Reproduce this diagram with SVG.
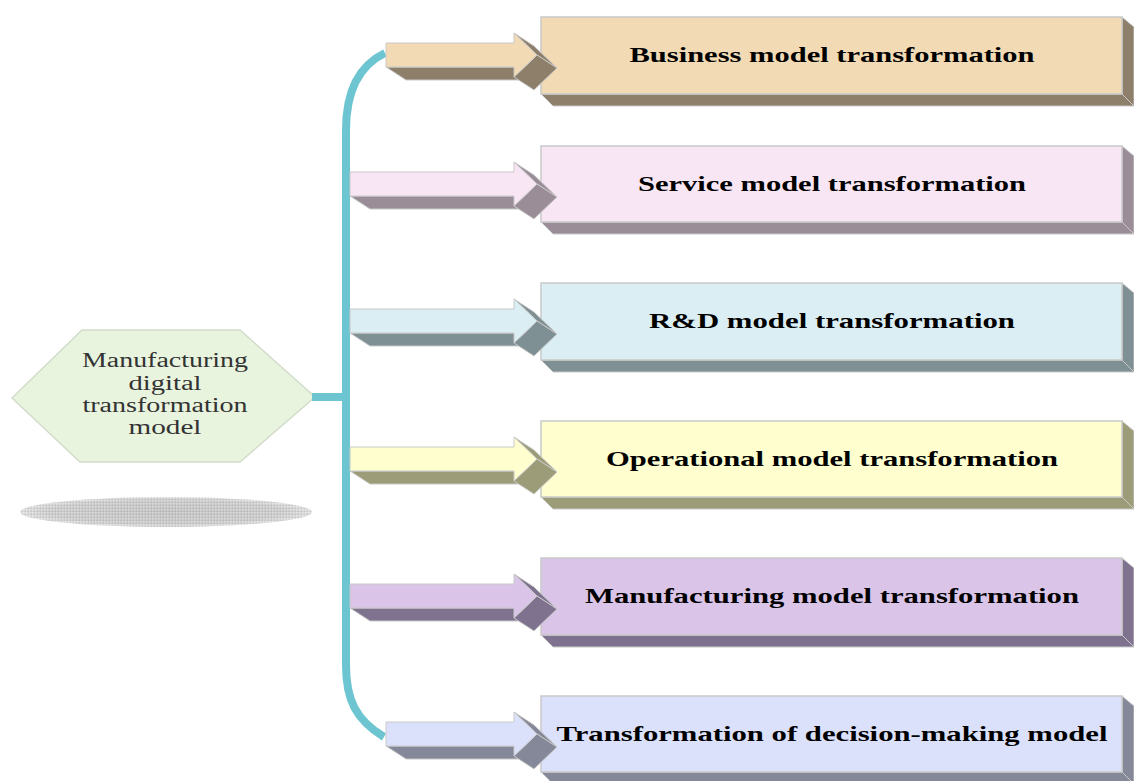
<svg xmlns="http://www.w3.org/2000/svg" width="1134" height="781" viewBox="0 0 1134 781">
<defs>
<style>
.front{stroke:#c9c9c9;stroke-width:1.5}
.side{stroke:#c9c9c9;stroke-width:1}
.lbl{font-family:"Liberation Serif","Times New Roman",serif;font-weight:bold;font-size:21px;fill:#000;text-anchor:middle}
.hex{font-family:"Liberation Serif","Times New Roman",serif;font-size:20px;fill:#333;text-anchor:middle}
.trunk{fill:none;stroke:#6CC5D0;stroke-width:8}
.arw{stroke:#c9c9c9;stroke-width:1;stroke-linejoin:round}
</style>
<radialGradient id="shadow" cx="0.5" cy="0.5" r="0.5">
<stop offset="0" stop-color="#b4b4b4"/>
<stop offset="0.8" stop-color="#c4c4c4"/>
<stop offset="1" stop-color="#e4e4e4"/>
</radialGradient>
<pattern id="dots" width="3" height="3" patternUnits="userSpaceOnUse">
<rect width="3" height="3" fill="url(#shadow)"/>
<rect x="2" width="1" height="3" fill="#fff" fill-opacity="0.35"/>
<rect y="2" width="3" height="1" fill="#fff" fill-opacity="0.35"/>
</pattern>
</defs>
<rect width="1134" height="781" fill="#fff"/>

<!-- central node -->
<g id="n-center">
<ellipse cx="166" cy="512" rx="146" ry="15" fill="url(#shadow)"/>
<ellipse cx="166" cy="512" rx="146" ry="15" fill="url(#dots)" opacity="0.5"/>
<polygon points="12,398 82,330 240,330 315,397 240,462 80,462" fill="#E9F4DF" stroke="#d3dccb" stroke-width="1.5"/>
<text class="hex" x="165" y="367" textLength="166" lengthAdjust="spacingAndGlyphs">Manufacturing</text>
<text class="hex" x="165" y="390" textLength="73" lengthAdjust="spacingAndGlyphs">digital</text>
<text class="hex" x="165" y="412" textLength="165" lengthAdjust="spacingAndGlyphs">transformation</text>
<text class="hex" x="165" y="434" textLength="73" lengthAdjust="spacingAndGlyphs">model</text>
</g>

<!-- boxes -->
<g id="n-business">
<polygon class="side" points="541,94 1122,94 1134,106 553,106" fill="#8E7F6B"/>
<polygon class="side" points="1122,17 1134,27 1134,106 1122,94" fill="#8E7F6B"/>
<rect class="front" x="541" y="17" width="581" height="77" fill="#F2DAB5"/>
<text class="lbl" x="832" y="62" textLength="405" lengthAdjust="spacingAndGlyphs">Business model transformation</text>
</g>
<g id="n-service">
<polygon class="side" points="541,222 1122,222 1134,234 553,234" fill="#9B8D98"/>
<polygon class="side" points="1122,146 1134,156 1134,234 1122,222" fill="#9B8D98"/>
<rect class="front" x="541" y="146" width="581" height="76" fill="#F9E6F5"/>
<text class="lbl" x="832" y="191" textLength="388" lengthAdjust="spacingAndGlyphs">Service model transformation</text>
</g>
<g id="n-rd">
<polygon class="side" points="541,360 1122,360 1134,372 553,372" fill="#7E9093"/>
<polygon class="side" points="1122,283 1134,293 1134,372 1122,360" fill="#7E9093"/>
<rect class="front" x="541" y="283" width="581" height="77" fill="#DAEEF3"/>
<text class="lbl" x="832" y="328" textLength="366" lengthAdjust="spacingAndGlyphs">R&amp;D model transformation</text>
</g>
<g id="n-operational">
<polygon class="side" points="541,497 1122,497 1134,509 553,509" fill="#9C9C79"/>
<polygon class="side" points="1122,421 1134,431 1134,509 1122,497" fill="#9C9C79"/>
<rect class="front" x="541" y="421" width="581" height="76" fill="#FEFECF"/>
<text class="lbl" x="832" y="466" textLength="452" lengthAdjust="spacingAndGlyphs">Operational model transformation</text>
</g>
<g id="n-manufacturing">
<polygon class="side" points="541,635 1122,635 1134,647 553,647" fill="#7F728F"/>
<polygon class="side" points="1122,558 1134,568 1134,647 1122,635" fill="#7F728F"/>
<rect class="front" x="541" y="558" width="581" height="77" fill="#DAC5E8"/>
<text class="lbl" x="832" y="603" textLength="494" lengthAdjust="spacingAndGlyphs">Manufacturing model transformation</text>
</g>
<g id="n-decision">
<polygon class="side" points="541,772 1122,772 1134,784 553,784" fill="#848898"/>
<polygon class="side" points="1122,696 1134,706 1134,784 1122,772" fill="#848898"/>
<rect class="front" x="541" y="696" width="581" height="76" fill="#DBE1FA"/>
<text class="lbl" x="832" y="741" textLength="551" lengthAdjust="spacingAndGlyphs">Transformation of decision-making model</text>
</g>

<!-- connectors -->
<g id="connectors">
<path class="trunk" d="M385,53 C358,66 346,92 346,130 L346,665 C346,700 356,720 384,737"/>
<line x1="312" y1="397" x2="346" y2="397" stroke="#6CC5D0" stroke-width="8"/>

<g id="a-business">
<polygon class="arw" fill="#8E7F6B" points="386,67 514,67 534,80 406,80"/>
<polygon class="arw" fill="#8E7F6B" points="514,33 537,55 557,68 534,46"/>
<polygon class="arw" fill="#8E7F6B" points="514,77 534,90 557,68 537,55"/>
<polygon class="arw" fill="#F2DAB5" points="386,43 514,43 514,33 537,55 514,77 514,67 386,67"/>
</g>
<g id="a-service">
<polygon class="arw" fill="#9B8D98" points="350,196 514,196 534,209 370,209"/>
<polygon class="arw" fill="#9B8D98" points="514,162 537,184 557,197 534,175"/>
<polygon class="arw" fill="#9B8D98" points="514,206 534,219 557,197 537,184"/>
<polygon class="arw" fill="#F9E6F5" points="350,172 514,172 514,162 537,184 514,206 514,196 350,196"/>
</g>
<g id="a-rd">
<polygon class="arw" fill="#7E9093" points="350,333 514,333 534,346 370,346"/>
<polygon class="arw" fill="#7E9093" points="514,299 537,321 557,334 534,312"/>
<polygon class="arw" fill="#7E9093" points="514,343 534,356 557,334 537,321"/>
<polygon class="arw" fill="#DAEEF3" points="350,309 514,309 514,299 537,321 514,343 514,333 350,333"/>
</g>
<g id="a-operational">
<polygon class="arw" fill="#9C9C79" points="350,471 514,471 534,484 370,484"/>
<polygon class="arw" fill="#9C9C79" points="514,437 537,459 557,472 534,450"/>
<polygon class="arw" fill="#9C9C79" points="514,481 534,494 557,472 537,459"/>
<polygon class="arw" fill="#FEFECF" points="350,447 514,447 514,437 537,459 514,481 514,471 350,471"/>
</g>
<g id="a-manufacturing">
<polygon class="arw" fill="#7F728F" points="350,608 514,608 534,621 370,621"/>
<polygon class="arw" fill="#7F728F" points="514,574 537,596 557,609 534,587"/>
<polygon class="arw" fill="#7F728F" points="514,618 534,631 557,609 537,596"/>
<polygon class="arw" fill="#DAC5E8" points="350,584 514,584 514,574 537,596 514,618 514,608 350,608"/>
</g>
<g id="a-decision">
<polygon class="arw" fill="#848898" points="386,746 514,746 534,759 406,759"/>
<polygon class="arw" fill="#848898" points="514,712 537,734 557,747 534,725"/>
<polygon class="arw" fill="#848898" points="514,756 534,769 557,747 537,734"/>
<polygon class="arw" fill="#DBE1FA" points="386,722 514,722 514,712 537,734 514,756 514,746 386,746"/>
</g>
</g>
</svg>
